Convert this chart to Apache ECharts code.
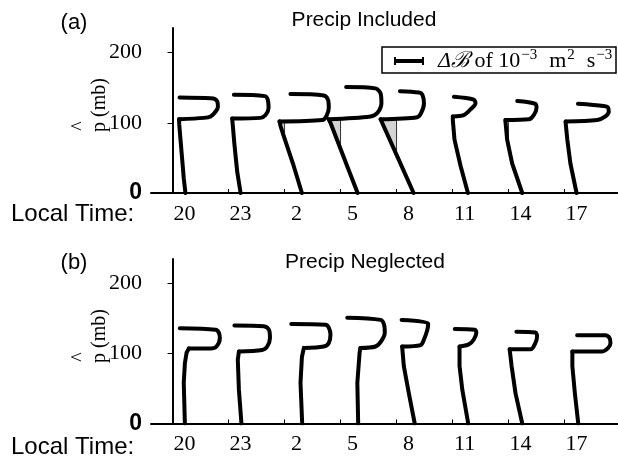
<!DOCTYPE html>
<html>
<head>
<meta charset="utf-8">
<style>html,body{margin:0;padding:0;background:#fff}#main{width:618px;height:457px}</style>
<script src="https://cdn.jsdelivr.net/npm/echarts@6/dist/echarts.min.js"></script>
</head>
<body>
<div id="main"></div>
<script>
// local time of each profile, one slot every 3 h
const times = [20, 23, 2, 5, 8, 11, 14, 17];
const pTicks = [0, 100, 200];
// slot spacing on the x axis, in units of 1e-3 m2 s-3
const SLOT = 2;

// profiles as [dB (1e-3 m2 s-3), p-hat (mb)]: stem from the surface to the kink, then the hook
const inclStem = [
  [[0.46,0],[0.40,21],[0.35,45],[0.29,73],[0.24,97],[0.23,105]],
  [[0.43,0],[0.31,30],[0.21,69],[0.15,97],[0.13,106]],
  [[0.62,0],[0.30,42],[-0.06,85],[-0.14,95],[-0.18,102]],
  [[0.61,0],[0.27,35],[-0.36,100],[-0.42,105]],
  [[0.61,0],[0.05,50],[-0.57,105]],
  [[0.55,0],[0.29,38],[0.07,76],[0.01,104],[0.01,109]],
  [[0.49,0],[0.13,42],[-0.05,76],[-0.11,102],[-0.11,104]],
  [[0.43,0],[0.21,42],[0.10,76],[0.04,100],[0.04,102]]
];
const inclHook = [
  [[1.12,107],[1.36,109],[1.54,116],[1.62,123],[1.60,130],[1.51,134],[1.36,135],[0.25,136]],
  [[1.14,107],[1.32,111],[1.43,121],[1.40,133],[1.30,138],[0.19,140]],
  [[1.35,104],[1.49,109],[1.58,121],[1.55,133],[1.40,139],[0.21,141]],
  [[1.07,109],[1.31,114],[1.46,128],[1.43,142],[1.25,149],[0.20,151]],
  [[0.74,108],[0.88,114],[0.98,128],[0.92,140],[0.80,143],[0.12,145]],
  [[0.40,111],[0.64,119],[0.82,128],[0.76,133],[0.05,137]],
  [[0.73,105],[0.90,111],[1.00,121],[0.96,127],[0.31,131]],
  [[1.17,104],[1.46,109],[1.58,116],[1.55,122],[1.40,124],[0.48,127]]
];
const neglStem = [
  [[0.44,0],[0.40,58],[0.44,86],[0.50,101],[0.58,107]],
  [[0.46,0],[0.37,48],[0.33,91],[0.37,103]],
  [[0.63,0],[0.57,58],[0.62,95],[0.69,108]],
  [[0.63,0],[0.60,58],[0.68,101],[0.71,108]],
  [[0.65,0],[0.44,43],[0.26,82],[0.20,110]],
  [[0.56,0],[0.35,48],[0.25,82],[0.25,110]],
  [[0.49,0],[0.25,43],[0.11,82],[0.04,106]],
  [[0.49,0],[0.37,43],[0.28,82],[0.28,103]]
];
const neglHook = [
  [[1.36,107],[1.57,110],[1.69,122],[1.65,130],[1.54,134],[0.26,136]],
  [[1.20,105],[1.38,110],[1.48,122],[1.44,134],[1.26,139],[0.21,140]],
  [[1.40,110],[1.58,115],[1.64,127],[1.58,137],[1.46,141],[0.24,142]],
  [[1.25,110],[1.46,118],[1.58,130],[1.55,142],[1.43,148],[0.24,151]],
  [[0.86,112],[0.98,120],[1.10,134],[1.13,143],[0.18,148]],
  [[0.58,113],[0.76,120],[0.85,130],[0.80,134],[0.08,135]],
  [[0.79,106],[0.96,115],[1.02,125],[0.96,130],[0.28,131]],
  [[1.35,103],[1.56,108],[1.64,115],[1.61,122],[1.46,126],[0.45,126]]
];

const chart = echarts.init(document.getElementById('main'));
const slotTicks = times.map((t, i) => i * SLOT);

// negative part of the stem, closed against the zero line of its slot
function shading(stems) {
  const out = [];
  stems.forEach((stem, i) => {
    const poly = [];
    for (let k = 0; k < stem.length; k++) {
      const [b, p] = stem[k];
      if (b < 0) {
        if (k > 0 && stem[k - 1][0] >= 0) {
          const [b0, p0] = stem[k - 1];
          poly.push([0, p0 + (p - p0) * b0 / (b0 - b)]);
        }
        poly.push([b, p]);
      }
    }
    if (poly.length) {
      poly.push([0, stem[stem.length - 1][1]]);
      out.push(poly.map(([b, p]) => [i * SLOT + b, p]));
    }
  });
  return out;
}

const sans = 'Liberation Sans';
const serif = 'Liberation Serif';

function xAxis(gi) {
  return {
    type: 'value', gridIndex: gi, min: -0.77, max: 15.91,
    axisLine: { lineStyle: { color: '#000', width: 2 } },
    axisTick: { inside: true, length: 4, customValues: slotTicks, lineStyle: { color: '#000', width: 1 } },
    axisLabel: {
      customValues: slotTicks, formatter: v => times[Math.round(v / SLOT)],
      color: '#000', fontFamily: serif, fontSize: 22, margin: 10, padding: [0, 0, 0, 24]
    },
    splitLine: { show: false }
  };
}
function yAxis(gi) {
  return {
    type: 'value', gridIndex: gi, min: 0, max: 235,
    axisLine: { show: true, lineStyle: { color: '#000', width: 2 } },
    axisTick: { show: true, length: 5, customValues: pTicks, lineStyle: { color: '#000', width: 1 } },
    axisLabel: {
      customValues: pTicks, color: '#000', fontFamily: serif, fontSize: 22, margin: 9,
      formatter: v => v === 0 ? '{z|0}' : String(v),
      rich: { z: { fontFamily: sans, fontSize: 23, fontWeight: 'bold', color: '#000' } }
    },
    splitLine: { show: false }
  };
}

function panelSeries(gi, stems, hooks) {
  const polys = shading(stems);
  const list = [{
    type: 'custom', xAxisIndex: gi, yAxisIndex: gi, z: 1,
    data: polys.map(pl => pl[0]),
    renderItem: (params, api) => ({
      type: 'polygon',
      shape: { points: polys[params.dataIndex].map(pt => api.coord(pt)) },
      style: { fill: '#d4d4d4', stroke: '#333', lineWidth: 1 }
    })
  }];
  const line = { color: '#000', width: 4, join: 'round', cap: 'round' };
  stems.forEach((stem, i) => {
    const toXY = ([b, p]) => [i * SLOT + b, p];
    list.push({
      type: 'line', xAxisIndex: gi, yAxisIndex: gi, z: 3,
      data: stem.map(toXY), symbol: 'none', smooth: false, lineStyle: line
    });
    // the hook starts at the kink and is drawn rounded
    list.push({
      type: 'line', xAxisIndex: gi, yAxisIndex: gi, z: 3,
      data: [stem[stem.length - 1]].concat(hooks[i]).map(toXY), symbol: 'none', smooth: 0.3, lineStyle: line
    });
  });
  return list;
}

function txt(id, x, y, text, font, size, extra) {
  return Object.assign({
    type: 'text', id: id, x: x, y: y,
    style: { text: text, fontFamily: font, fontSize: size, fill: '#000', align: (extra && extra.align) || 'center', verticalAlign: 'middle' }
  }, extra && extra.rotation ? { rotation: extra.rotation } : {});
}

chart.setOption({
  animation: false,
  backgroundColor: '#fff',
  grid: [
    { left: 151, right: 0, top: 28, height: 165 },
    { left: 151, right: 0, top: 259, height: 164.5 }
  ],
  xAxis: [xAxis(0), xAxis(1)],
  yAxis: [yAxis(0), yAxis(1)],
  series: panelSeries(0, inclStem, inclHook).concat(panelSeries(1, neglStem, neglHook)),
  graphic: [
    txt('ta', 74, 23, '(a)', sans, 22),
    txt('tta', 364, 20, 'Precip Included', sans, 21),
    txt('tb', 74, 263, '(b)', sans, 22),
    txt('ttb', 365, 262, 'Precip Neglected', sans, 21),
    txt('lt1', 11, 214, 'Local Time:', sans, 24, { align: 'left' }),
    txt('lt2', 11, 447, 'Local Time:', sans, 24, { align: 'left' }),
    txt('yn1', 100, 105, 'p (mb)', serif, 20, { rotation: Math.PI / 2 }),
    txt('yh1', 80, 126, '^', serif, 20, { rotation: Math.PI / 2 }),
    txt('yn2', 100, 336, 'p (mb)', serif, 20, { rotation: Math.PI / 2 }),
    txt('yh2', 80, 357, '^', serif, 20, { rotation: Math.PI / 2 }),
    { type: 'rect', id: 'lgbox', shape: { x: 382, y: 47, width: 234, height: 26 }, style: { fill: '#fff', stroke: '#000', lineWidth: 1.5 }, z: 10 },
    {
      type: 'text', id: 'lgtxt', x: 438, y: 61, z: 11,
      style: {
        text: '{b|Δℬ} of 10{s|−3}  m{s|2}  s{s|−3}',
        fontFamily: serif, fontSize: 22, fill: '#000', align: 'left', verticalAlign: 'middle',
        rich: {
          b: { fontFamily: serif, fontSize: 22, fontStyle: 'italic', lineHeight: 26 },
          s: { fontFamily: serif, fontSize: 15, verticalAlign: 'top', lineHeight: 26, padding: [0, 1, 0, 1] }
        }
      }
    }
  ]
});

// scale bar: length of 1e-3 m2 s-3 on the x axis
const x0 = chart.convertToPixel({ xAxisIndex: 0 }, 0);
const x1 = chart.convertToPixel({ xAxisIndex: 0 }, 1);
const bx = 395, by = 61, bl = x1 - x0;
chart.setOption({
  graphic: [
    { type: 'line', id: 'bar', z: 11, shape: { x1: bx, y1: by, x2: bx + bl, y2: by }, style: { stroke: '#000', lineWidth: 4 } },
    { type: 'line', id: 'capL', z: 11, shape: { x1: bx, y1: by - 4, x2: bx, y2: by + 4 }, style: { stroke: '#000', lineWidth: 2 } },
    { type: 'line', id: 'capR', z: 11, shape: { x1: bx + bl, y1: by - 4, x2: bx + bl, y2: by + 4 }, style: { stroke: '#000', lineWidth: 2 } }
  ]
});
</script>
</body>
</html>
